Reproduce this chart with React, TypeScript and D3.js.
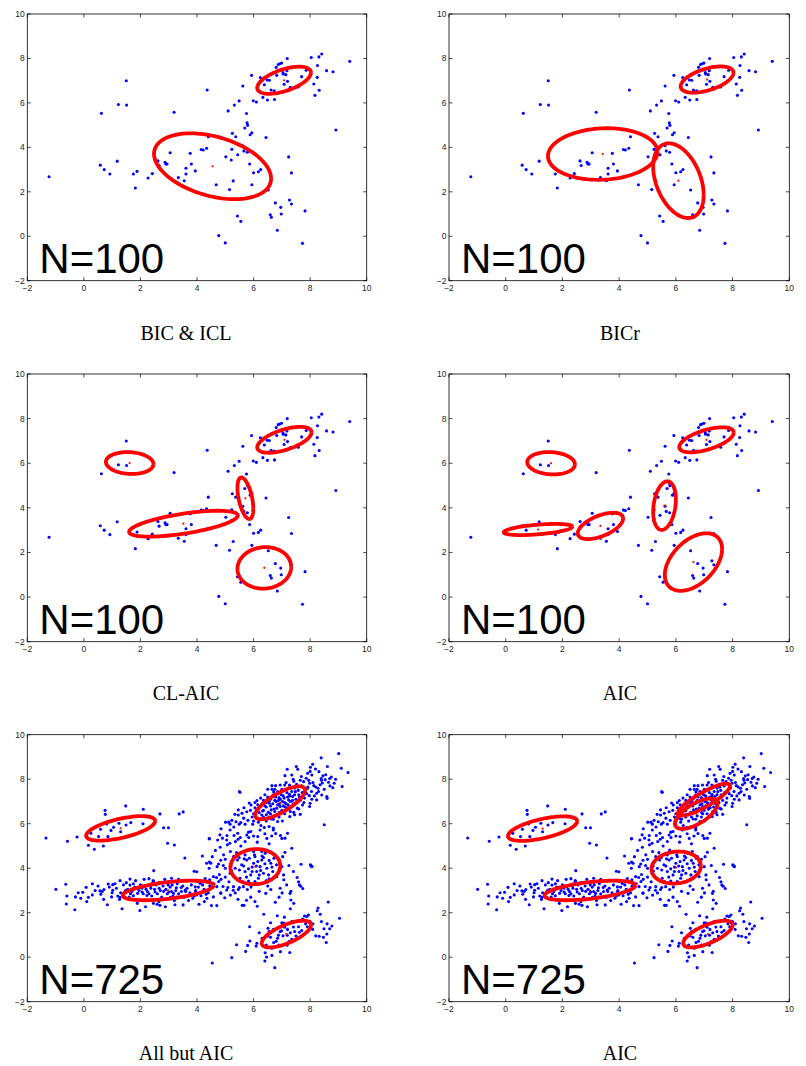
import React from "react";
import * as d3 from "d3";

// ---------- tick values ----------
const xTicks = [-2, 0, 2, 4, 6, 8, 10];
const yTicks = [-2, 0, 2, 4, 6, 8, 10];

// ---------- data: N = 100 sample (same in the four upper panels) ----------
const pts100: [number, number][] = [
  [-1.23, 2.68], [0.62, 5.53], [0.58, 3.2], [0.72, 3.0], [0.92, 2.8], [1.18, 3.38], [1.22, 5.93], [1.5, 7.0],
  [1.51, 5.9], [1.75, 2.8], [1.82, 2.17], [1.88, 2.92], [2.27, 2.62], [2.42, 2.82], [2.62, 3.39], [2.66, 3.18],
  [2.87, 3.33], [2.9, 3.25], [2.94, 3.25], [3.05, 3.76], [3.19, 5.58], [3.34, 2.64], [3.55, 2.5], [3.61, 2.8],
  [3.61, 3.06], [3.76, 3.73], [3.8, 3.25], [3.94, 2.94], [4.15, 3.9], [4.22, 3.88], [4.34, 3.96], [4.36, 6.58],
  [4.4, 4.48], [4.68, 2.32], [4.77, 0.03], [5.02, 3.58], [5.0, -0.3], [5.1, 5.64], [5.15, 2.1], [5.21, 3.43],
  [5.23, 3.91], [5.25, 4.63], [5.28, 2.49], [5.32, 5.9], [5.37, 4.48], [5.43, 0.91], [5.44, 3.67], [5.49, 6.09],
  [5.55, 0.67], [5.62, 4.07], [5.62, 6.76], [5.66, 3.84], [5.69, 4.87], [5.75, 5.52], [5.77, 5.1], [5.79, 4.99],
  [5.78, 3.78], [5.86, 3.25], [5.88, 4.57], [5.93, 7.24], [5.94, 4.66], [5.94, 2.32], [5.99, 6.1], [6.0, 2.86],
  [6.1, 6.04], [6.17, 2.9], [6.24, 7.14], [6.25, 3.0], [6.33, 6.25], [6.38, 6.82], [6.44, 4.44], [6.48, 7.03],
  [6.49, 6.13], [6.52, 2.08], [6.56, 7.02], [6.59, 0.97], [6.62, 6.58], [6.63, 0.85], [6.73, 6.55], [6.74, 6.15],
  [6.77, 1.5], [6.8, 7.6], [6.82, 7.24], [6.84, 0.27], [6.87, 7.73], [6.92, 7.76], [6.99, 7.79], [6.96, 1.3],
  [6.98, 1.0], [7.04, 7.36], [7.05, 7.3], [7.08, 6.84], [7.14, 7.27], [7.18, 7.45], [7.19, 8.0], [7.2, 6.97],
  [7.24, 3.57], [7.27, 1.63], [7.3, 6.7], [7.34, 2.85], [7.34, 1.45], [7.58, 6.72], [7.7, 7.18], [7.73, -0.32],
  [7.82, 1.14], [7.86, 7.47], [8.04, 8.04], [8.13, 6.85], [8.17, 6.34], [8.25, 7.15], [8.26, 7.68], [8.31, 8.07],
  [8.32, 6.57], [8.41, 8.2], [8.58, 7.45], [8.81, 7.4], [8.91, 4.78], [9.4, 7.87],
];

// ---------- data: N = 725 sample (same in the two lower panels) ----------
const pts725: [number, number][] = [
  // upper-left group
  [-1.34, 5.36], [-0.58, 5.21], [-0.24, 5.4], [0.16, 5.03], [0.37, 4.85], [0.25, 5.57], [0.52, 5.42], [0.59, 5.75],
  [0.75, 6.6], [0.76, 6.42], [0.69, 5.0], [0.85, 5.42], [0.81, 5.99], [1.05, 5.84], [1.24, 6.02], [1.3, 5.64],
  [1.48, 6.8], [1.49, 5.94], [1.66, 6.05], [2.1, 6.65], [2.09, 6.0], [2.69, 6.44], [2.82, 5.82], [2.99, 5.82],
  [2.96, 5.12], [3.2, 5.04], [3.37, 6.44], [3.51, 6.53], [3.57, 4.46], [0.96, 5.7],
  // flat group around y = 3
  [-0.99, 3.05], [-0.64, 3.28], [-0.6, 2.75], [-0.62, 2.39], [-0.32, 2.13], [-0.3, 2.71], [-0.11, 2.65], [-0.04, 2.92],
  [0.08, 3.14], [0.16, 2.69], [0.57, 2.98], [0.6, 2.83], [0.65, 2.95], [0.71, 3.04], [0.86, 3.29], [0.83, 2.36],
  [1.02, 3.26], [1.02, 3.01], [0.98, 2.71], [1.28, 3.44], [1.28, 2.69], [1.26, 2.6], [1.35, 2.18], [1.42, 2.87],
  [1.48, 3.01], [1.63, 3.51], [1.63, 3.24], [1.75, 2.76], [1.83, 3.44], [1.89, 2.42], [1.98, 2.1], [1.9, 2.87],
  [2.06, 2.93], [2.13, 3.5], [2.15, 3.17], [2.18, 2.27], [2.23, 2.77], [2.3, 3.53], [2.37, 3.1], [2.46, 2.42],
  [2.46, 3.41], [2.52, 2.93], [2.59, 2.38], [2.66, 3.1], [2.69, 2.33], [2.76, 3.37], [2.82, 2.96], [2.88, 2.27],
  [2.86, 3.5], [3.0, 2.93], [3.06, 2.69], [3.1, 3.55], [3.17, 2.87], [3.22, 2.36], [3.27, 3.12], [3.35, 3.5],
  [3.44, 3.13], [3.51, 2.35], [3.58, 3.02], [3.7, 2.78], [3.9, 3.86], [3.87, 3.44], [3.94, 3.16], [3.99, 2.8],
  [2.47, 3.89], [1.55, 3.05], [1.7, 2.95], [1.8, 3.15], [1.95, 3.0], [2.0, 3.25], [2.1, 2.85], [2.2, 3.05],
  [2.25, 2.95], [2.35, 3.2], [2.4, 2.75], [2.5, 3.05], [2.55, 3.25], [2.6, 2.85], [2.7, 3.0], [2.75, 2.7],
  [2.8, 3.2], [2.9, 3.05], [2.95, 2.85], [3.05, 3.15], [3.1, 2.95], [3.15, 2.75], [3.25, 3.0], [3.3, 3.3],
  [3.35, 2.85], [3.45, 2.95], [3.5, 3.2], [3.55, 2.7], [3.65, 3.1], [3.75, 2.9], [3.8, 3.25], [3.85, 2.65],
  [3.95, 3.0], [4.05, 3.15], [4.15, 2.9], [4.25, 3.05], [4.35, 2.65], [4.45, 3.2], [1.3, 2.9], [1.15, 3.1],
  [1.4, 3.25], [2.15, 2.55], [2.65, 2.5], [3.2, 2.55], [3.7, 2.55], [2.45, 3.45], [3.0, 3.4], [1.6, 2.7],
  [0.4, 3.0], [0.3, 2.8], [0.5, 3.2],
  [1.0, 2.9], [1.1, 3.3], [1.2, 2.75], [1.45, 2.95], [1.5, 3.35], [1.65, 2.85], [1.75, 3.3], [1.85, 2.6],
  [2.05, 3.1], [2.3, 2.85], [2.4, 3.3], [2.55, 2.6], [2.65, 3.35], [2.85, 2.6], [2.98, 3.25], [3.12, 3.25],
  [3.28, 2.7], [3.4, 3.4], [3.6, 2.95], [3.9, 2.75], [4.0, 3.4], [4.2, 3.25], [4.4, 2.9], [0.1, 2.5],
  [-0.2, 2.9], [0.3, 3.3], [0.7, 2.6], [0.9, 3.15],
  [3.99, 3.84], [4.43, 4.0], [4.11, 3.32], [4.29, 3.54], [4.45, 3.48], [3.95, 2.94], [4.14, 2.76], [4.07, 2.38],
  [4.26, 2.5], [4.51, 2.32], [4.7, 2.32], [4.32, 2.83], [4.58, 2.71], [4.56, 3.15], [4.69, 3.58], [4.79, 3.72],
  [4.77, 3.4], [4.84, 2.9], [4.92, 3.18], [4.98, 2.67], [5.09, 3.13], [5.13, 3.39], [5.18, 2.79], [5.21, 3.87],
  [5.28, 3.01], [5.35, 2.89], [5.46, 3.04], [5.5, 3.13], [5.6, 2.33], [5.66, 2.33], [5.75, 2.56], [5.78, 3.04],
  [5.82, 3.42], [5.91, 3.15], [6.13, 2.29], [6.2, 2.96], [6.43, 2.87], [6.61, 3.04], [6.55, 3.52], [6.77, 2.47],
  [7.01, 2.89], [7.07, 3.48], [7.32, 2.96], [7.32, 2.57], [7.3, 2.18], [7.42, 2.42], [7.54, 3.58], [7.59, 3.39],
  [7.67, 3.19], [7.74, 3.09], [8.02, 4.13], [8.06, 4.09],
  // lower-right group
  [4.54, -0.26], [5.23, -0.02], [5.4, 0.56], [5.72, 0.26], [5.79, 0.53], [5.87, 0.73], [5.86, 1.37], [6.09, 0.5],
  [6.12, 0.63], [6.36, 1.93], [6.41, 0.2], [6.4, -0.17], [6.46, 0.01], [6.55, 1.15], [6.51, 1.3], [6.65, 0.08],
  [6.75, -0.47], [6.71, 0.66], [6.8, 0.72], [6.84, 1.86], [6.88, 0.99], [6.94, 1.15], [6.99, 1.19], [7.04, 0.96],
  [7.07, 1.53], [7.09, 1.8], [7.18, 0.54], [7.19, 0.99], [7.28, 0.21], [7.35, 0.81], [7.41, 1.36], [7.59, 1.37],
  [7.62, 1.12], [7.73, 1.71], [7.84, 1.5], [7.88, 1.83], [7.94, 1.9], [7.9, 1.37], [8.09, 1.25], [8.2, 0.96],
  [8.32, 0.94], [8.47, 0.9], [8.57, 0.66], [8.49, 1.28], [8.59, 1.04], [8.69, 1.28], [8.77, 1.4], [8.64, 2.48],
  [8.28, 2.21], [8.36, 1.93], [8.25, 2.09], [9.04, 1.75], [6.6, 0.9], [6.7, 1.25], [7.3, 1.1], [7.5, 0.95],
  [6.9, 0.55], [7.1, 1.35], [6.3, 0.85], [6.6, 1.55], [7.7, 1.2], [8.0, 1.6],
  [6.45, 0.55], [6.65, 0.4], [6.85, 0.85], [7.0, 1.55], [7.2, 1.25], [7.35, 1.6], [7.45, 1.15], [7.6, 1.65],
  [7.8, 1.85], [8.1, 1.5], [6.2, 1.1], [6.95, 0.25], [7.25, 0.7], [6.5, 0.95], [8.4, 1.6], [8.6, 1.5],
  // upper-right group
  [9.01, 9.15], [8.39, 8.96], [8.09, 8.67], [8.01, 8.54], [7.51, 8.57], [7.91, 8.27], [8.19, 8.46], [8.31, 8.34],
  [8.61, 8.57], [9.1, 8.49], [9.34, 8.3], [7.56, 8.45], [7.19, 8.45], [7.69, 8.12], [7.86, 8.04], [8.06, 8.19],
  [8.39, 8.03], [8.53, 7.98], [8.69, 8.03], [8.43, 7.83], [8.65, 7.86], [8.85, 7.82], [9.13, 7.67], [8.8, 7.62],
  [8.28, 7.59], [8.13, 7.71], [7.98, 7.82], [7.77, 7.89], [7.35, 8.19], [7.11, 8.16], [7.42, 7.91], [7.52, 7.77],
  [7.27, 7.74], [7.1, 7.74], [6.94, 7.74], [6.78, 7.71], [6.65, 7.71], [6.71, 7.44], [7.91, 7.59], [7.76, 7.41],
  [7.97, 7.26], [8.23, 7.37], [8.41, 7.29], [8.59, 7.22], [8.6, 7.14], [8.06, 7.1], [8.0, 6.92], [7.98, 6.77],
  [8.23, 7.07], [7.73, 6.84], [7.6, 6.66], [7.42, 6.51], [7.28, 6.32], [7.65, 6.42], [7.02, 6.12], [7.21, 6.72],
  [6.91, 6.5], [6.75, 6.35], [6.61, 6.21], [6.45, 6.12], [6.29, 6.39], [6.32, 6.57], [6.52, 6.51], [6.72, 6.66],
  [6.94, 6.77], [7.1, 6.95], [7.24, 7.07], [7.38, 7.22], [7.48, 7.44], [7.27, 7.32], [7.05, 7.25], [6.9, 7.17],
  [6.75, 7.05], [6.55, 6.92], [6.4, 6.8], [6.24, 6.78], [6.12, 7.04], [6.05, 6.72], [5.91, 6.84], [5.85, 6.93],
  [5.66, 6.72], [5.52, 7.41], [5.76, 6.54], [5.89, 6.6], [5.59, 6.47], [5.46, 6.39], [5.34, 6.42], [5.23, 6.15],
  [5.12, 6.07], [5.01, 6.07], [5.17, 5.98], [4.85, 5.77], [4.81, 5.5], [4.43, 5.32], [4.73, 5.27], [5.06, 5.47],
  [5.16, 5.12], [5.31, 5.47], [5.44, 5.57], [5.49, 5.98], [5.7, 5.98], [5.82, 5.62], [5.97, 5.98], [6.0, 6.12],
  [6.13, 6.24], [6.17, 6.07], [6.26, 5.92], [6.38, 5.83], [6.55, 5.87], [6.7, 5.8], [6.78, 5.56], [6.64, 5.45],
  [6.95, 5.47], [7.11, 5.35], [6.13, 5.17], [6.15, 5.42], [5.83, 5.38], [5.53, 5.38], [5.36, 5.2], [5.07, 5.05],
  [5.18, 4.75], [4.94, 4.6], [4.84, 4.36], [4.54, 4.52], [4.44, 4.28], [4.71, 4.07], [4.93, 4.12], [5.49, 4.48],
  [5.67, 4.42], [6.03, 4.6], [6.35, 4.48], [6.72, 4.45], [7.03, 4.52], [7.35, 4.9], [7.68, 4.18], [8.01, 4.15],
  [8.06, 4.07], [8.5, 5.95], [7.11, 4.72], [6.81, 4.15], [7.25, 4.12],
  [6.5, 7.2], [6.6, 7.1], [6.7, 7.3], [6.8, 7.0], [6.85, 6.85], [6.95, 7.1], [7.0, 6.6], [7.05, 6.8],
  [7.15, 6.9], [7.2, 7.2], [7.3, 7.0], [6.6, 6.8], [6.45, 6.95], [6.35, 7.05], [6.3, 6.9], [6.75, 6.55],
  [6.9, 6.3], [7.1, 6.45], [7.4, 6.9], [7.5, 7.1], [7.6, 7.3], [7.65, 7.05], [7.8, 7.15], [6.2, 6.5],
  [6.6, 6.45], [6.85, 7.45], [7.0, 7.55], [7.25, 7.6], [7.35, 7.45], [6.5, 7.55], [6.4, 7.3], [7.45, 7.6],
  [6.95, 6.45], [7.15, 6.65], [7.3, 6.55], [6.7, 6.2], [6.45, 6.4], [6.1, 6.6], [6.0, 6.45], [6.65, 7.55],
  [7.55, 7.65], [7.7, 7.7], [7.85, 7.55], [8.1, 7.85], [8.2, 7.65], [7.95, 7.95], [8.35, 7.75], [8.5, 7.55],
  [8.45, 8.15], [8.75, 8.1], [8.0, 8.35],
  [6.15, 6.85], [6.25, 7.15], [6.35, 6.6], [6.45, 6.75], [6.55, 7.0], [6.62, 6.62], [6.68, 6.9], [6.78, 7.2],
  [6.82, 6.7], [6.88, 7.05], [6.92, 6.9], [6.98, 7.3], [7.02, 7.0], [7.08, 7.15], [7.12, 6.75], [7.18, 7.4],
  [7.22, 6.85], [7.28, 7.25], [7.33, 6.75], [7.38, 7.05], [7.45, 7.3], [7.52, 6.95], [7.58, 7.5], [7.62, 7.2],
  [7.72, 7.4], [7.78, 6.95], [7.88, 7.35], [7.92, 7.65], [8.05, 7.45], [8.15, 7.25], [8.3, 7.45], [8.4, 7.95],
  [8.55, 8.2], [8.7, 7.7], [8.9, 8.0], [6.05, 6.95], [5.95, 6.3], [5.8, 6.15], [5.65, 6.25], [5.55, 6.05],
  [6.2, 6.2], [6.35, 6.3], [6.55, 6.3], [6.85, 6.1], [7.45, 6.4], [7.55, 6.7], [6.75, 7.55], [7.15, 7.85],
  [7.4, 8.0], [7.65, 7.95],
  // central group
  [5.29, 4.52], [5.43, 4.37], [5.35, 4.0], [5.5, 3.92], [5.58, 4.15], [5.7, 4.6], [5.76, 4.37], [5.7, 3.85],
  [5.82, 3.97], [5.9, 3.7], [6.0, 4.22], [6.05, 4.52], [6.11, 3.85], [6.17, 3.55], [6.23, 4.07], [6.29, 4.37],
  [6.35, 3.77], [6.41, 4.67], [6.47, 4.0], [6.53, 3.7], [6.61, 4.22], [6.68, 3.85], [6.76, 4.52], [5.52, 3.55],
  [5.88, 3.32], [6.05, 3.4], [5.17, 3.77], [5.78, 4.82], [6.0, 4.75], [6.29, 4.75], [6.58, 4.75], [6.82, 3.62],
  [7.0, 4.07], [7.06, 3.7], [6.94, 3.1], [7.17, 3.25], [7.29, 2.87], [7.41, 3.85], [7.62, 3.25], [5.64, 3.17],
  [5.29, 3.17], [5.05, 3.02], [4.84, 2.87], [4.7, 3.17], [4.58, 3.62], [4.49, 4.22], [4.76, 4.19], [5.0, 4.4],
  [4.44, 5.33], [4.82, 4.94], [5.05, 5.27], [5.17, 5.72], [5.38, 6.09], [5.46, 6.62], [5.5, 7.44], [5.76, 5.49],
  [6.0, 5.45], [6.23, 5.72], [6.47, 5.34], [6.7, 5.72], [7.0, 5.34], [7.2, 5.57], [4.19, 4.55], [4.34, 4.22],
  [5.95, 4.05], [6.15, 4.3], [5.65, 4.1], [6.4, 4.2], [5.85, 4.45], [6.25, 3.9],
  [5.0, 3.6], [5.2, 4.1], [5.4, 4.7], [5.55, 5.0], [5.6, 3.4], [5.75, 3.6], [5.95, 3.85], [6.1, 4.1],
  [6.2, 3.7], [6.3, 4.55], [6.45, 3.45], [6.55, 4.35], [6.65, 4.05], [6.9, 4.4], [5.45, 5.3], [5.7, 5.2],
  [5.9, 5.65], [6.4, 5.55], [6.55, 5.1], [4.65, 4.8], [4.9, 5.35], [5.3, 5.85], [5.0, 4.0], [4.6, 3.3],
  [4.85, 3.5], [5.45, 2.6], [5.9, 2.7], [6.05, 2.5], [6.5, 3.2], [6.9, 2.7],
];

// ---------- Gaussian components: [mean x, mean y, sd x, sd y, correlation] ----------
type Comp = [number, number, number, number, number];
const compsBicIcl: Comp[] = [
  [4.55, 3.15, 2.07, 1.48, -0.375],
  [7.08, 7.02, 0.95, 0.61, 0.56],
];
const compsBicr: Comp[] = [
  [3.42, 3.7, 1.93, 1.16, 0.08],
  [7.1, 7.05, 0.93, 0.59, 0.52],
  [6.09, 2.5, 0.89, 1.68, -0.38],
];
const compsClAic: Comp[] = [
  [1.62, 6.01, 0.84, 0.49, -0.1],
  [7.09, 7.05, 0.96, 0.58, 0.58],
  [3.52, 3.29, 1.92, 0.58, 0.63],
  [5.71, 4.43, 0.28, 0.93, -0.5],
  [6.38, 1.31, 0.95, 0.93, 0.05],
];
const compsAic100: Comp[] = [
  [1.6, 6.0, 0.84, 0.5, -0.1],
  [7.08, 7.05, 0.96, 0.56, 0.58],
  [1.14, 3.03, 1.21, 0.25, 0.5],
  [3.34, 3.19, 0.8, 0.59, 0.56],
  [5.6, 4.1, 0.4, 1.09, 0.25],
  [6.62, 1.57, 1.01, 1.29, 0.45],
];
const compsAllButAic: Comp[] = [
  [1.3, 5.79, 1.22, 0.55, 0.6],
  [2.98, 3.0, 1.6, 0.44, 0.52],
  [6.06, 4.07, 0.88, 0.79, 0.05],
  [6.94, 6.94, 0.88, 0.74, 0.76],
  [7.16, 1.04, 0.87, 0.6, 0.68],
];
const compsAic725: Comp[] = [
  [1.3, 5.78, 1.22, 0.55, 0.6],
  [2.97, 3.0, 1.6, 0.44, 0.52],
  [6.01, 4.03, 0.87, 0.72, 0.1],
  [7.13, 1.04, 0.87, 0.6, 0.68],
  [6.99, 7.08, 0.92, 0.72, 0.86],
  [6.72, 6.45, 0.75, 0.68, 0.66],
];

const titles = ["BIC & ICL", "BICr", "CL-AIC", "AIC", "All but AIC", "AIC"];
const nLabels = ["N=100", "N=100", "N=100", "N=100", "N=725", "N=725"];

// ---------- layout ----------
const W = 806;
const H = 1066;
const colX: [number, number][] = [
  [27.3, 366.7],
  [449, 789.3],
];
const rowY: [number, number][] = [
  [14, 280.7],
  [374, 641.7],
  [734.7, 1001.7],
];
const titleX = [186, 620];
const titleY = [339.5, 699.5, 1059.5];

const panels = [
  { data: pts100, comps: compsBicIcl },
  { data: pts100, comps: compsBicr },
  { data: pts100, comps: compsClAic },
  { data: pts100, comps: compsAic100 },
  { data: pts725, comps: compsAllButAic },
  { data: pts725, comps: compsAic725 },
];

function ellipsePath(c: Comp, xs: d3.ScaleLinear<number, number>, ys: d3.ScaleLinear<number, number>) {
  const [mx, my, sx, sy, r] = c;
  const steps = 120;
  const pts: [number, number][] = d3.range(steps + 1).map((i) => {
    const t = (i / steps) * 2 * Math.PI;
    const x = mx + sx * Math.cos(t);
    const y = my + r * sy * Math.cos(t) + sy * Math.sqrt(1 - r * r) * Math.sin(t);
    return [xs(x), ys(y)];
  });
  return d3.line()(pts) || "";
}

function Panel({ idx }: { idx: number }) {
  const col = idx % 2;
  const row = Math.floor(idx / 2);
  const [x0, x1] = colX[col];
  const [y0, y1] = rowY[row];
  const xs = d3.scaleLinear().domain([-2, 10]).range([x0, x1]);
  const ys = d3.scaleLinear().domain([-2, 10]).range([y1, y0]);
  const p = panels[idx];
  const tl = 3.5;
  const tickFont = { fontFamily: "Liberation Sans, Arial, sans-serif", fontSize: 8.5, fill: "#222" } as const;
  return (
    <g>
      {/* frame */}
      <rect x={x0} y={y0} width={x1 - x0} height={y1 - y0} fill="white" stroke="#000" strokeWidth={0.8} />
      {/* ticks */}
      {xTicks.map((t) => (
        <g key={"xt" + t}>
          <line x1={xs(t)} x2={xs(t)} y1={y1} y2={y1 - tl} stroke="#000" strokeWidth={0.7} />
          <line x1={xs(t)} x2={xs(t)} y1={y0} y2={y0 + tl} stroke="#000" strokeWidth={0.7} />
          <text x={xs(t)} y={y1 + 10.5} textAnchor="middle" {...tickFont}>
            {t < 0 ? "\u2212" + Math.abs(t) : String(t)}
          </text>
        </g>
      ))}
      {yTicks.map((t) => (
        <g key={"yt" + t}>
          <line x1={x0} x2={x0 + tl} y1={ys(t)} y2={ys(t)} stroke="#000" strokeWidth={0.7} />
          <line x1={x1} x2={x1 - tl} y1={ys(t)} y2={ys(t)} stroke="#000" strokeWidth={0.7} />
          <text x={x0 - 2.5} y={ys(t) + 3} textAnchor="end" {...tickFont}>
            {t < 0 ? "\u2212" + Math.abs(t) : String(t)}
          </text>
        </g>
      ))}
      {/* points */}
      {p.data.map((d, i) => (
        <circle key={"p" + i} cx={xs(d[0])} cy={ys(d[1])} r={1.55} fill="#0000ff" />
      ))}
      {/* ellipses */}
      {p.comps.map((c, i) => (
        <path key={"e" + i} d={ellipsePath(c, xs, ys)} fill="none" stroke="#ff0000" strokeWidth={3.8} />
      ))}
      {p.comps.map((c, i) => (
        <circle key={"m" + i} cx={xs(c[0])} cy={ys(c[1])} r={1.1} fill="#ff0000" />
      ))}
      {/* N label */}
      <text
        x={x0 + 12}
        y={y1 - 7.5}
        fontFamily="Liberation Sans, Arial, sans-serif"
        fontSize={42}
        fill="#000"
      >
        {nLabels[idx]}
      </text>
      {/* caption */}
      <text
        x={titleX[col]}
        y={titleY[row]}
        textAnchor="middle"
        fontFamily="Liberation Serif, Times New Roman, serif"
        fontSize={20}
        fill="#000"
      >
        {titles[idx]}
      </text>
    </g>
  );
}

export default function App() {
  return (
    <svg
      width={W}
      height={H}
      viewBox={`0 0 ${W} ${H}`}
      style={{ position: "absolute", left: 0, top: 0, background: "white" }}
    >
      <rect x={0} y={0} width={W} height={H} fill="white" />
      {panels.map((_, i) => (
        <Panel key={i} idx={i} />
      ))}
    </svg>
  );
}
